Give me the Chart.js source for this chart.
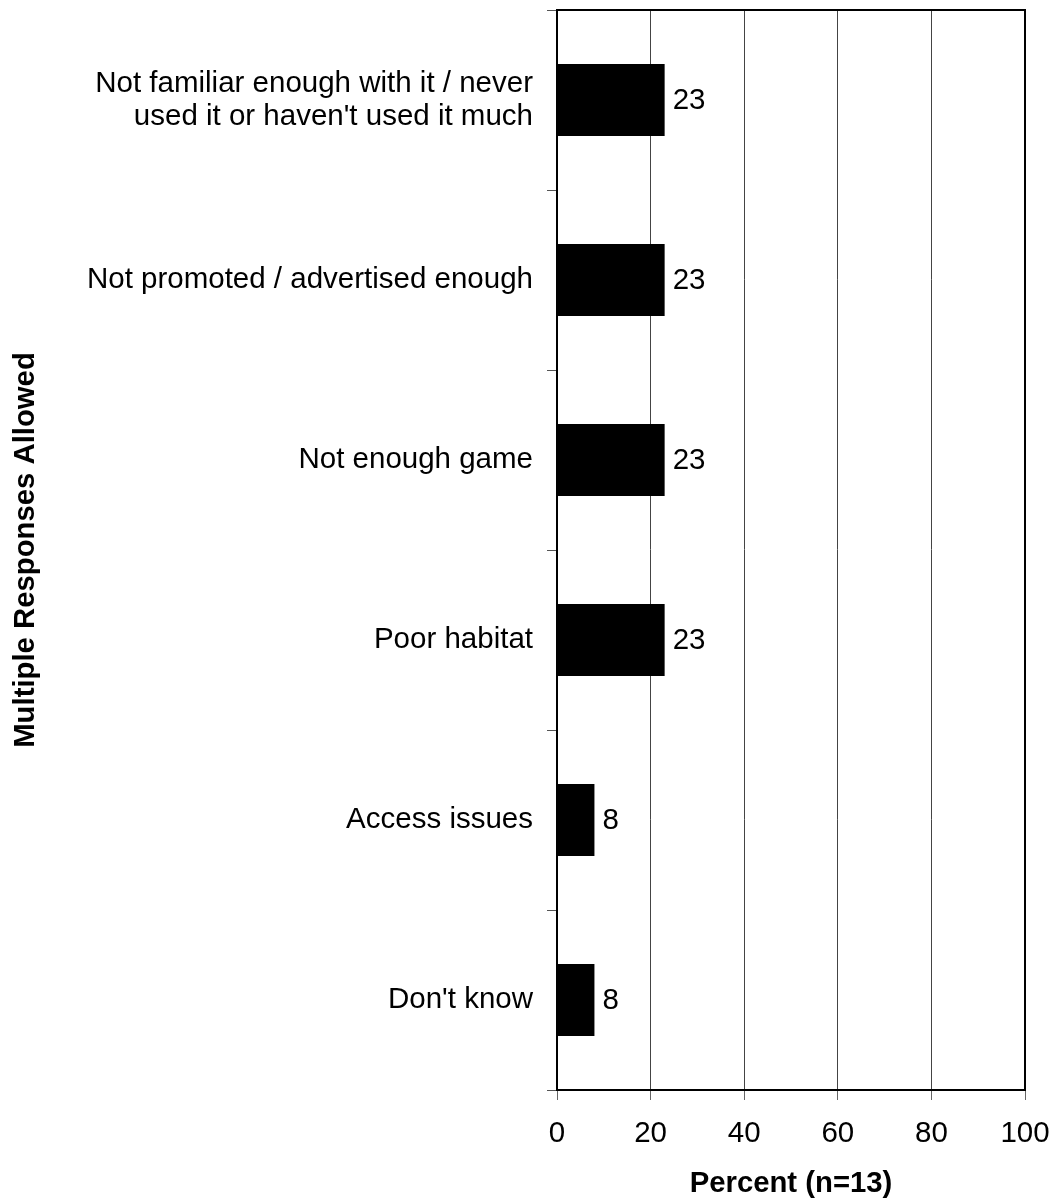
<!DOCTYPE html>
<html>
<head>
<meta charset="utf-8">
<script src="https://cdn.jsdelivr.net/npm/chart.js@4/dist/chart.umd.min.js"></script>
<style>
  html, body { margin: 0; padding: 0; background: #fff; }
  #wrap { width: 1052px; height: 1199px; }
</style>
</head>
<body>
<div id="wrap"><canvas id="barChart"></canvas></div>
<script>
// Reasons, top to bottom
const categories = [
    ["Not familiar enough with it / never", "used it or haven't used it much"],
    "Not promoted / advertised enough",
    "Not enough game",
    "Poor habitat",
    "Access issues",
    "Don't know"
];
const percentValues = [23, 23, 23, 23, 8, 8];
const xTicks = [0, 20, 40, 60, 80, 100];

const FONT = "'Liberation Sans', Arial, sans-serif";
const TEXT_SIZE = 29.5;

// value labels at the end of each bar
const valueLabels = {
    id: "valueLabels",
    afterDatasetsDraw(chart) {
        const ctx = chart.ctx;
        const meta = chart.getDatasetMeta(0);
        ctx.save();
        ctx.font = TEXT_SIZE + "px " + FONT;
        ctx.fillStyle = "#000";
        ctx.textAlign = "left";
        ctx.textBaseline = "middle";
        meta.data.forEach((bar, i) => {
            ctx.fillText(String(percentValues[i]), bar.x + 8, bar.y + 1);
        });
        ctx.restore();
    }
};

// top and right sides of the plot frame
const plotFrame = {
    id: "plotFrame",
    afterDraw(chart) {
        const { ctx, chartArea: a } = chart;
        ctx.save();
        ctx.strokeStyle = "#000";
        ctx.lineWidth = 2;
        ctx.beginPath();
        ctx.moveTo(a.left, a.top);
        ctx.lineTo(a.right, a.top);
        ctx.lineTo(a.right, a.bottom);
        ctx.stroke();
        ctx.restore();
    }
};

new Chart(document.getElementById("barChart"), {
    type: "bar",
    data: {
        labels: categories,
        datasets: [{
            data: percentValues,
            backgroundColor: "#000",
            borderWidth: 0,
            categoryPercentage: 0.4,
            barPercentage: 1
        }]
    },
    options: {
        indexAxis: "y",
        responsive: true,
        maintainAspectRatio: false,
        animation: false,
        layout: { padding: { top: 10, right: 27, left: 0, bottom: 0 } },
        plugins: {
            legend: { display: false },
            tooltip: { enabled: false }
        },
        scales: {
            x: {
                min: 0,
                max: 100,
                afterBuildTicks: (scale) => { scale.ticks = xTicks.map(v => ({ value: v })); },
                afterFit: (scale) => {
                    scale.height = 109;
                    scale.paddingLeft = 0;
                    scale.paddingRight = 0;
                },
                border: { color: "#000", width: 2 },
                grid: {
                    color: (c) => (c.tick && (c.tick.value === 0 || c.tick.value === 100)) ? "rgba(0,0,0,0)" : "#444",
                    tickColor: "#666",
                    lineWidth: 1,
                    drawTicks: true,
                    tickLength: 10
                },
                ticks: {
                    color: "#000",
                    font: { family: FONT, size: TEXT_SIZE, lineHeight: 1.2 },
                    padding: 16,
                    maxRotation: 0
                },
                title: {
                    display: true,
                    text: "Percent (n=13)",
                    color: "#000",
                    font: { family: FONT, size: 29.3, weight: "bold", lineHeight: 1 },
                    padding: { top: 0, bottom: 0 }
                }
            },
            y: {
                afterFit: (scale) => {
                    scale.width = 557;
                    scale.paddingTop = 0;
                    scale.paddingBottom = 0;
                },
                border: { color: "#000", width: 2 },
                grid: {
                    offset: true,
                    drawOnChartArea: false,
                    drawTicks: true,
                    tickLength: 10,
                    tickColor: "#555"
                },
                ticks: {
                    color: "#000",
                    font: { family: FONT, size: TEXT_SIZE, lineHeight: 1.12 },
                    padding: 14
                },
                title: {
                    display: true,
                    text: "Multiple Responses Allowed",
                    color: "#000",
                    font: { family: FONT, size: 29.3, weight: "bold", lineHeight: 1 },
                    padding: { top: 11, bottom: 0 }
                }
            }
        }
    },
    plugins: [valueLabels, plotFrame]
});
</script>
</body>
</html>
